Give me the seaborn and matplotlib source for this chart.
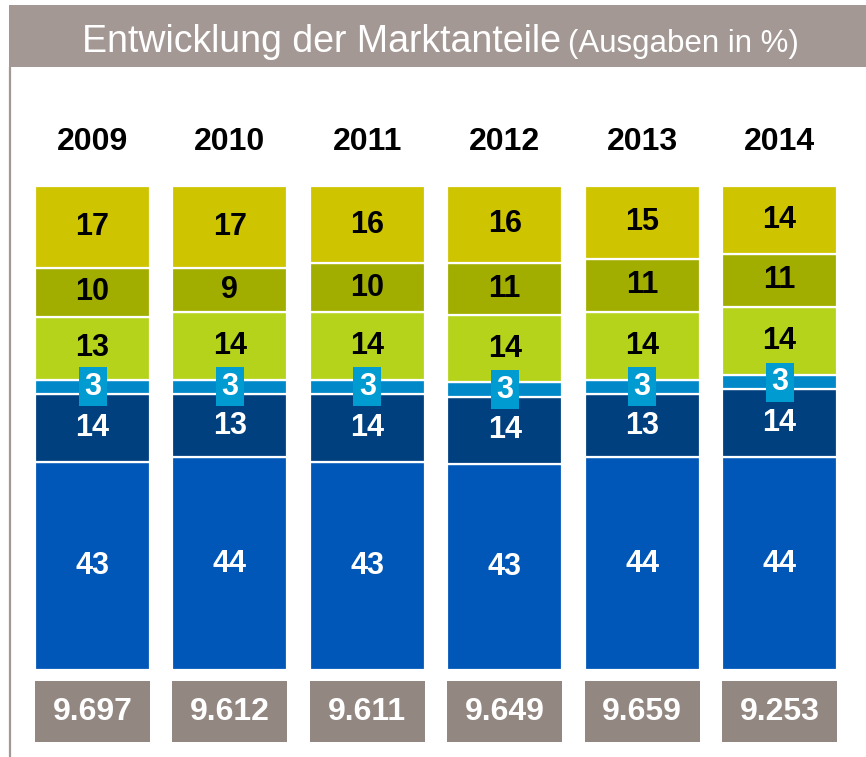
import matplotlib
matplotlib.use("Agg")
import matplotlib.pyplot as plt
import seaborn as sns
import numpy as np
from matplotlib.patches import Rectangle
from matplotlib.lines import Line2D

# ---------------- data ----------------
years = ["2009", "2010", "2011", "2012", "2013", "2014"]
seg_blue = [43, 44, 43, 43, 44, 44]
seg_navy = [14, 13, 14, 14, 13, 14]
seg_light = [3, 3, 3, 3, 3, 3]
seg_lime = [13, 14, 14, 14, 14, 14]
seg_olive = [10, 9, 10, 11, 11, 11]
seg_yellow = [17, 17, 16, 16, 15, 14]
totals = [9697, 9612, 9611, 9649, 9659, 9253]

title_main = "Entwicklung der Marktanteile"
title_sub = "(Ausgaben in %)"

# ---------------- style ----------------
sns.set_theme(style="white")
plt.rcParams["font.family"] = ["Liberation Sans", "DejaVu Sans"]

W, H = 866, 757
fig = plt.figure(figsize=(W / 100, H / 100), dpi=100)
fig.patch.set_facecolor("white")
ax = fig.add_axes([0, 0, 1, 1])

# pixel layout helpers
BAR_TOP, BAR_BOT = 186, 670
scale = (BAR_BOT - BAR_TOP) / 100.0


def py(px):
    return (BAR_BOT - px) / scale


pitch = (722 - 35) / 5.0
bar_w = 115 / pitch
x0_px = 35 + 57.5

layers = [
    (seg_blue, "#0057B7", "white"),
    (seg_navy, "#00407F", "white"),
    (seg_light, "#0088C8", None),
    (seg_lime, "#B5D31B", "black"),
    (seg_olive, "#A1AE00", "black"),
    (seg_yellow, "#CEC400", "black"),
]

arr = np.array([l[0] for l in layers], dtype=float)
shares = arr / arr.sum(axis=0) * 100.0
bottoms = np.vstack([np.zeros(arr.shape[1]), np.cumsum(shares, axis=0)[:-1]])

for k, (vals, col, tcol) in enumerate(layers):
    sns.barplot(x=years, y=shares[k], bottom=bottoms[k], color=col,
                saturation=1, width=bar_w, edgecolor="white", linewidth=1.6,
                ax=ax)

# segment labels
for k, (vals, col, tcol) in enumerate(layers):
    for i in range(len(years)):
        yc = bottoms[k][i] + shares[k][i] / 2
        if tcol is None:
            continue
        ax.text(i, yc, f"{vals[i]}", ha="center", va="center",
                fontsize=22, fontweight="bold", color=tcol)

# small highlighted box for the thin light-blue segment
k_light = 2
light_c = bottoms[k_light] + shares[k_light] / 2
box_h = 39 / scale
sns.barplot(x=years, y=[box_h] * len(years), bottom=light_c - box_h / 2,
            color="#009BD0", saturation=1, width=28 / pitch, linewidth=0, ax=ax)
for i in range(len(years)):
    ax.text(i, light_c[i], f"{seg_light[i]}", ha="center", va="center",
            fontsize=22, fontweight="bold", color="white")

# totals boxes below
tb_top, tb_bot = 681, 742
sns.barplot(x=years, y=[(tb_bot - tb_top) / scale] * len(years),
            bottom=py(tb_bot), color="#938781", saturation=1, width=bar_w,
            linewidth=0, ax=ax)
for i, t in enumerate(totals):
    lab = f"{t:,}".replace(",", ".")
    ax.text(i, py((tb_top + tb_bot) / 2), lab, ha="center", va="center",
            fontsize=23, fontweight="bold", color="white")

# year headers
for i, yr in enumerate(years):
    ax.text(i, py(150), yr, ha="center", va="baseline",
            fontsize=23, fontweight="bold", color="black")

ax.set_xlim(-x0_px / pitch, (W - x0_px) / pitch)
ax.set_ylim(py(H), py(0))
ax.axis("off")

# title band
fig.patches.append(Rectangle((9 / W, 1 - 67 / H), 1, 62 / H,
                             transform=fig.transFigure, facecolor="#A39893",
                             edgecolor="none", zorder=0))
fig.lines.append(Line2D([10 / W, 10 / W], [0, 1 - 67 / H],
                        transform=fig.transFigure, color="#A39893", lw=1.6))
fig.text(82 / W, 1 - 52 / H, title_main, ha="left", va="baseline",
         fontsize=27, color="white")
fig.text(568 / W, 1 - 52 / H, title_sub, ha="left", va="baseline",
         fontsize=22.5, color="white")

fig.savefig("out.png", dpi=100)
